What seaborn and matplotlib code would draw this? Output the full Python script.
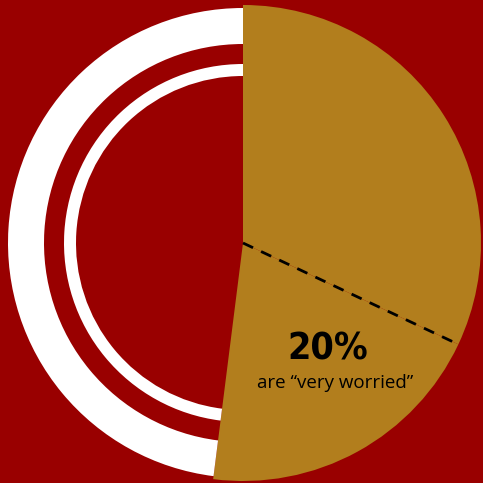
import numpy as np
import matplotlib
matplotlib.use("Agg")
import matplotlib.pyplot as plt
import seaborn as sns

# share of respondents (percent)
segments = ["somewhat worried", "very worried", "not worried"]
shares = [32, 20, 48]
highlight_label = "20%"
highlight_caption = "are \u201cvery worried\u201d"

bg_red = "#990000"
gold = "#B27E1D"

sns.set_theme(style="white")
plt.rcParams["font.family"] = ["DejaVu Sans"]

fig = plt.figure(figsize=(4.83, 4.83), dpi=100, facecolor=bg_red)
ax = fig.add_axes([0, 0, 1, 1])
ax.set_facecolor(bg_red)

# gold wedges for the worried groups, gap for the rest
ax.pie(shares, startangle=90, counterclock=False, radius=238,
       colors=[gold, gold, "none"], wedgeprops=dict(linewidth=0))

# white rings over the remaining part
worried_total = shares[0] + shares[1]
rest = [worried_total, shares[2]]
ax.pie(rest, startangle=90, counterclock=False, radius=235,
       colors=["none", "white"], wedgeprops=dict(width=36, linewidth=0))
ax.pie(rest, startangle=90, counterclock=False, radius=179,
       colors=["none", "white"], wedgeprops=dict(width=12, linewidth=0))

# dashed divider between the two gold groups
ang = np.deg2rad(90 - 360 * shares[0] / 100)
ax.plot([0, 238 * np.cos(ang)], [0, 238 * np.sin(ang)], color="black",
        linestyle=(0, (4, 3.2)), linewidth=2)

ax.text(85, -107, highlight_label, ha="center", va="center",
        fontsize=27, fontweight="bold", fontstretch="condensed",
        color="black", family=["DejaVu Sans"])
ax.text(92, -140, highlight_caption, ha="center", va="center",
        fontsize=13.5, color="black", family=["Open Sans", "DejaVu Sans"])

ax.set_xlim(-243, 240)
ax.set_ylim(-240, 243)
ax.set_aspect("equal")
ax.axis("off")

fig.savefig("out.png", dpi=100, facecolor=bg_red)
